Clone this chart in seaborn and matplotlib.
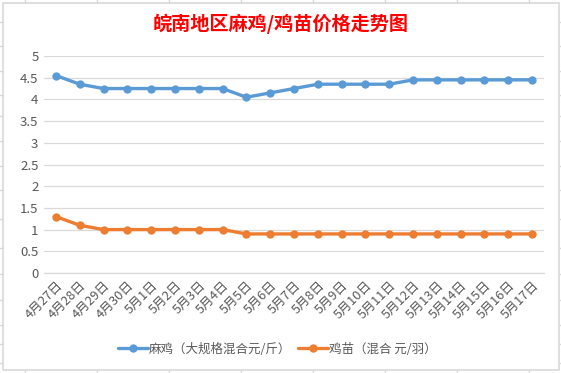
import matplotlib
matplotlib.use("Agg")
import matplotlib.pyplot as plt
from matplotlib.patches import Rectangle
from matplotlib.lines import Line2D
import seaborn as sns
import pandas as pd

dates = ["4月27日", "4月28日", "4月29日", "4月30日", "5月1日", "5月2日", "5月3日",
         "5月4日", "5月5日", "5月6日", "5月7日", "5月8日", "5月9日", "5月10日",
         "5月11日", "5月12日", "5月13日", "5月14日", "5月15日", "5月16日", "5月17日"]
maji = [4.55, 4.35, 4.25, 4.25, 4.25, 4.25, 4.25, 4.25, 4.05, 4.15, 4.25,
        4.35, 4.35, 4.35, 4.35, 4.45, 4.45, 4.45, 4.45, 4.45, 4.45]
jimiao = [1.3, 1.1, 1.0, 1.0, 1.0, 1.0, 1.0, 1.0, 0.9, 0.9, 0.9,
          0.9, 0.9, 0.9, 0.9, 0.9, 0.9, 0.9, 0.9, 0.9, 0.9]
series_names = ["麻鸡（大规格混合元/斤）", "鸡苗（混合 元/羽）"]
title = "皖南地区麻鸡/鸡苗价格走势图"
yticks = [0, 0.5, 1, 1.5, 2, 2.5, 3, 3.5, 4, 4.5, 5]

sns.set_style("white")
plt.rcParams['font.family'] = ['Noto Sans CJK SC', 'DejaVu Sans']

df = pd.DataFrame({
    "date": dates * 2,
    "price": maji + jimiao,
    "series": [series_names[0]] * len(dates) + [series_names[1]] * len(dates),
})

W, H = 561, 373
fig = plt.figure(figsize=(W / 100, H / 100), dpi=100)
ax = fig.add_axes([44 / W, 1 - 273 / H, 500 / W, 217 / H])

palette = {series_names[0]: "#5B9BD5", series_names[1]: "#ED7D31"}
sns.lineplot(data=df, x="date", y="price", hue="series", palette=palette,
             marker="o", markersize=6, markeredgewidth=0, linewidth=2.4,
             sort=False, ax=ax, legend=True)

grey = "#595959"
ax.set_xlim(-0.5, len(dates) - 0.5)
ax.set_ylim(0, 5)
ax.set_yticks(yticks)
ax.set_yticklabels([f"{v:g}" for v in yticks])
ax.yaxis.grid(True, color="#d9d9d9", linewidth=0.9)
ax.set_axisbelow(True)
ax.set_xlabel("")
ax.set_ylabel("")
for s in ["top", "right", "left"]:
    ax.spines[s].set_visible(False)
ax.spines["bottom"].set_color("#d9d9d9")
ax.spines["bottom"].set_linewidth(0.9)

ax.set_xticks(range(len(dates)))
ax.set_xticklabels(dates, rotation=45, ha="right", va="top",
                   rotation_mode="anchor", fontsize=9.3, color=grey)
ax.tick_params(axis="x", length=0, pad=4)
ax.set_xticks([i - 0.5 for i in range(len(dates) + 1)], minor=True)
ax.tick_params(axis="x", which="minor", length=4, color="#d9d9d9", width=0.9)
ax.tick_params(axis="y", length=0, labelsize=9.5, labelcolor=grey, pad=4)

handles, labels = ax.get_legend_handles_labels()
leg = ax.legend(handles, labels, loc="center", bbox_to_anchor=(277 / W, 1 - 349 / H),
                bbox_transform=fig.transFigure, ncol=2, frameon=False,
                fontsize=9, handlelength=2.4, columnspacing=0.5, handletextpad=0.1)
for t in leg.get_texts():
    t.set_color(grey)
for h in leg.legend_handles:
    h.set_marker("o")
    h.set_markersize(6)
    h.set_markeredgewidth(0)

fig.text(0.5, 1 - 24 / H, title, ha="center", va="center", color="#FF0000",
         fontsize=13.8, fontweight="bold")

# chart border
fig.patches.append(Rectangle((3 / W, 3 / H), 556 / W, 367.5 / H, transform=fig.transFigure,
                             fill=False, edgecolor="#d9d9d9", linewidth=1.2))
# spreadsheet cell grid marks outside border
for x in [25, 97, 169, 241, 313, 385, 457, 529]:
    fig.lines.append(Line2D([x / W, x / W], [1, 1 - 2.5 / H], transform=fig.transFigure,
                            color="#d9d9d9", linewidth=1))
    fig.lines.append(Line2D([x / W, x / W], [0, 3 / H], transform=fig.transFigure,
                            color="#d9d9d9", linewidth=1))
for y in [22, 46, 71, 95, 116, 141, 166, 190, 219, 248, 274, 300, 325, 344, 363]:
    fig.lines.append(Line2D([0, 3 / W], [1 - y / H, 1 - y / H], transform=fig.transFigure,
                            color="#d9d9d9", linewidth=1))
    fig.lines.append(Line2D([559 / W, 1], [1 - y / H, 1 - y / H], transform=fig.transFigure,
                            color="#d9d9d9", linewidth=1))

fig.savefig("out.png", dpi=100)
